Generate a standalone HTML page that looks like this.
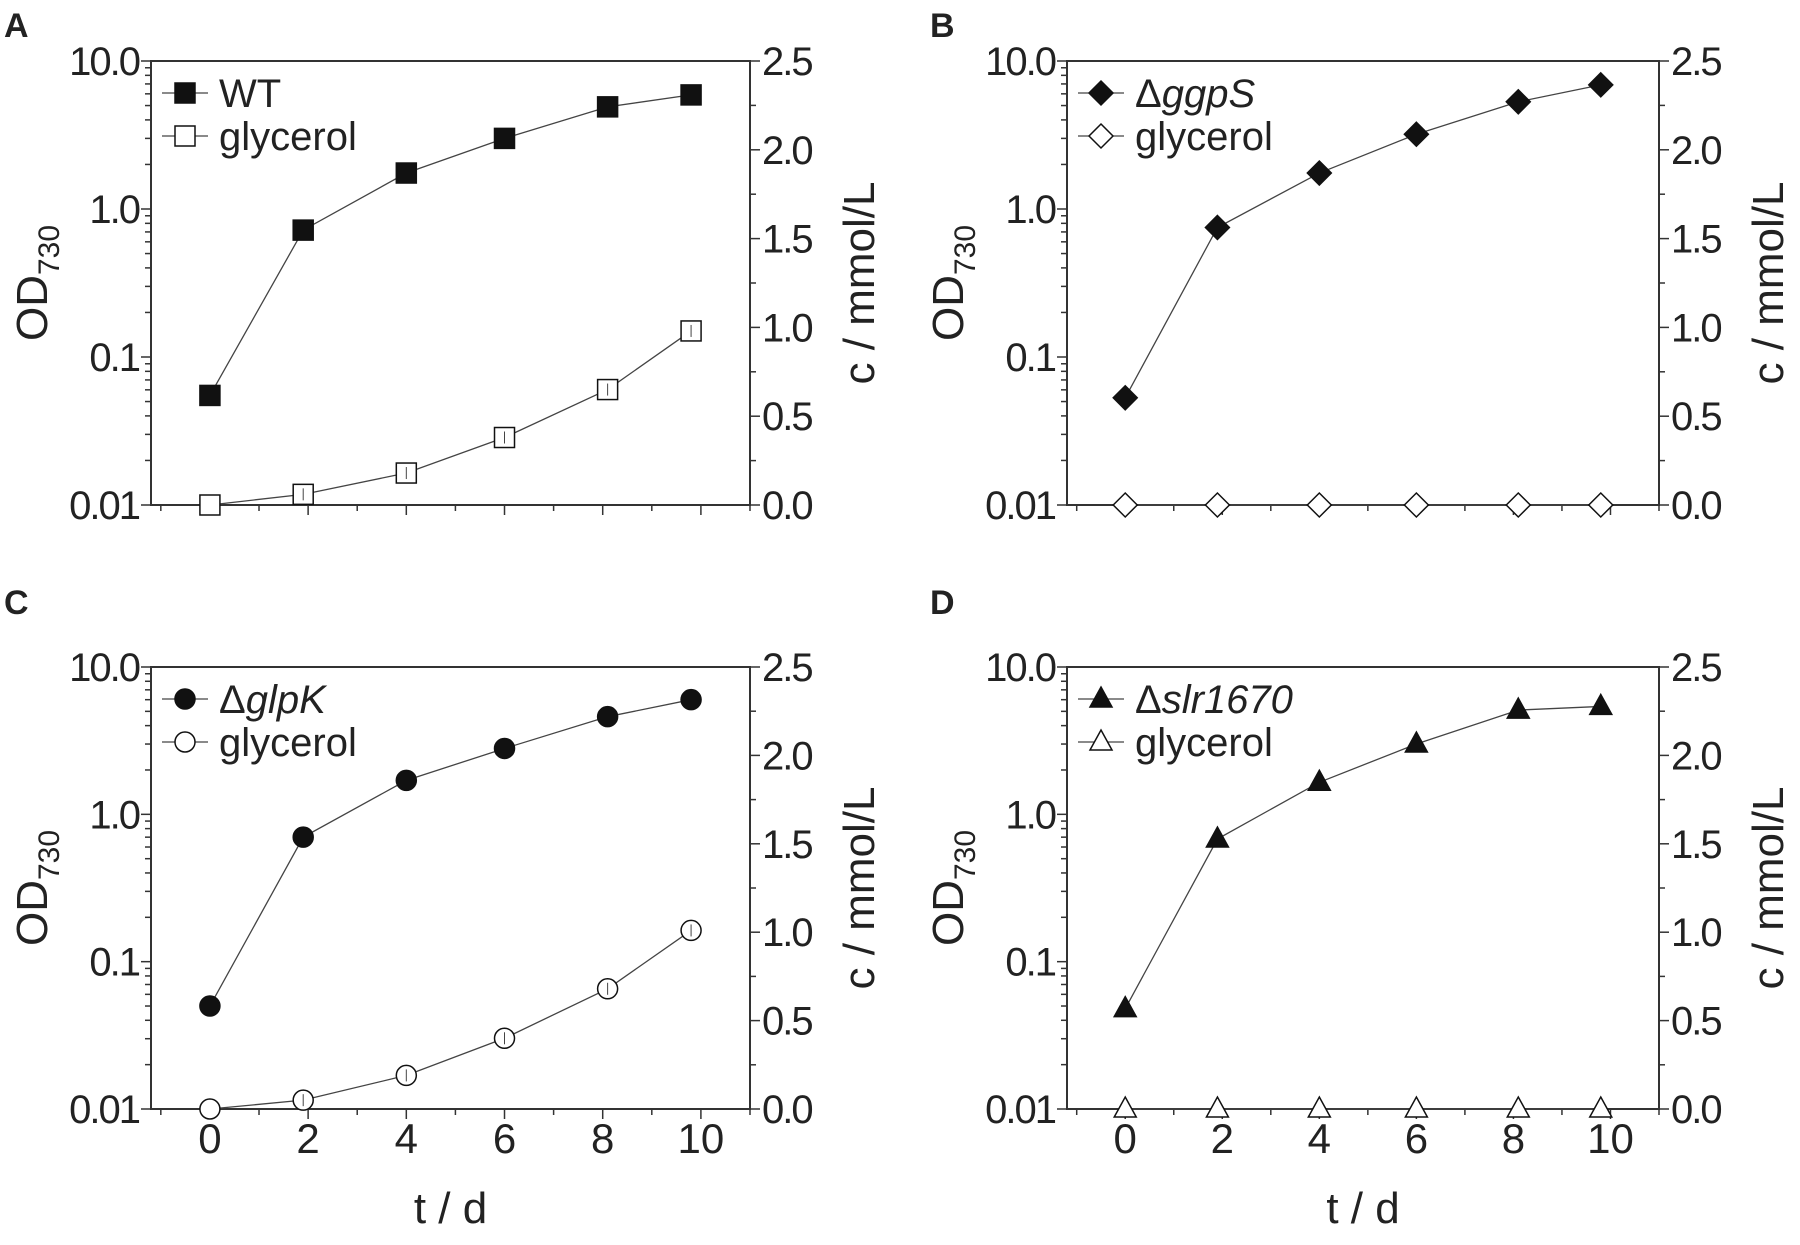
<!DOCTYPE html>
<html><head><meta charset="utf-8"><style>
html,body{margin:0;padding:0;background:#fff}
svg{display:block}
text{font-family:"Liberation Sans",Arial,sans-serif;fill:#222}
</style></head><body>
<svg id="fig" width="1800" height="1245" viewBox="0 0 1800 1245" xmlns="http://www.w3.org/2000/svg"></svg>
<script>
const days = [0, 1.9, 4, 6, 8.1, 9.8];
const odA = [0.055, 0.72, 1.75, 3.0, 4.9, 5.9];
const glyA = [0, 0.06, 0.18, 0.38, 0.65, 0.98];
const odB = [0.053, 0.75, 1.75, 3.2, 5.3, 6.9];
const glyB = [0, 0, 0, 0, 0, 0];
const odC = [0.05, 0.7, 1.7, 2.8, 4.6, 6.0];
const glyC = [0, 0.05, 0.19, 0.4, 0.68, 1.01];
const odD = [0.048, 0.68, 1.65, 3.0, 5.1, 5.4];
const glyD = [0, 0, 0, 0, 0, 0];
const leftTicks = ["0.01", "0.1", "1.0", "10.0"];
const rightTicks = ["0.0", "0.5", "1.0", "1.5", "2.0", "2.5"];
const xTicks = [0, 2, 4, 6, 8, 10];

const NS = "http://www.w3.org/2000/svg";
const svg = document.getElementById('fig');
function el(tag, attrs, parent, txt){
  const e = document.createElementNS(NS, tag);
  for (const k in attrs) e.setAttribute(k, attrs[k]);
  if (txt !== undefined) e.textContent = txt;
  (parent || svg).appendChild(e);
  return e;
}

const panels = [
  {id:'a', letter:'A', lx:4, ly:37, L:151, R:750, T:61, B:505, od:odA, gly:glyA, label:'WT', italic:false, shape:'square', xlabels:false},
  {id:'b', letter:'B', lx:930, ly:37, L:1067, R:1659, T:61, B:505, od:odB, gly:glyB, label:'ggpS', italic:true, shape:'diamond', xlabels:false},
  {id:'c', letter:'C', lx:4, ly:614, L:151, R:750, T:667, B:1109, od:odC, gly:glyC, label:'glpK', italic:true, shape:'circle', xlabels:true},
  {id:'d', letter:'D', lx:930, ly:614, L:1067, R:1659, T:667, B:1109, od:odD, gly:glyD, label:'slr1670', italic:true, shape:'triangle', xlabels:true}
];

function marker(g, shape, cx, cy, filled, name){
  const f = filled ? '#111' : '#fff';
  let m;
  if (shape === 'square') m = el('rect', {x:cx-10, y:cy-10, width:20, height:20, fill:f, stroke:'#111', 'stroke-width':1.5}, g);
  else if (shape === 'diamond') m = el('polygon', {points:`${cx},${cy-12} ${cx+12},${cy} ${cx},${cy+12} ${cx-12},${cy}`, fill:f, stroke:'#111', 'stroke-width':1.5}, g);
  else if (shape === 'circle') m = el('circle', {cx:cx, cy:cy, r:10, fill:f, stroke:'#111', 'stroke-width':1.5}, g);
  else m = el('polygon', {points:`${cx},${cy-12} ${cx+11},${cy+8} ${cx-11},${cy+8}`, fill:f, stroke:'#111', 'stroke-width':1.5}, g);
  
  
  return m;
}

panels.forEach(p => {
  const g = el('g', {});
  
  
  const xMin = -1.2, xMax = 11;
  const X = v => p.L + (v - xMin) / (xMax - xMin) * (p.R - p.L);
  const Y = v => p.B - (Math.log10(v) + 2) / 3 * (p.B - p.T);
  const Y2 = v => p.B - v / 2.5 * (p.B - p.T);

  const lt = el('text', {x:p.lx, y:p.ly, 'font-size':34, 'font-weight':'bold', fill:'#000'}, g, p.letter);
  
  

  const frame = el('rect', {x:p.L, y:p.T, width:p.R - p.L, height:p.B - p.T, fill:'none', stroke:'#333', 'stroke-width':2}, g);
  
  

  for (let d = 0; d < 3; d++) {
    for (let k = 1; k <= 9; k++) {
      const v = Math.pow(10, d - 2) * k;
      const y = Y(v);
      el('line', {x1:p.L - (k === 1 ? 10 : 6), x2:p.L, y1:y, y2:y, stroke:'#333', 'stroke-width':1.5}, g);
    }
  }
  el('line', {x1:p.L - 10, x2:p.L, y1:p.T, y2:p.T, stroke:'#333', 'stroke-width':1.5}, g);
  leftTicks.forEach((t, i) => {
    const tx = el('text', {x:p.L - 12, y:Y(Math.pow(10, i - 2)) + 14, 'font-size':40, 'text-anchor':'end', 'letter-spacing':-2}, g, t);
    
    
  });
  for (let i = 0; i <= 10; i++) {
    const v = i * 0.25, y = Y2(v);
    el('line', {x1:p.R, x2:p.R + (i % 2 === 0 ? 10 : 6), y1:y, y2:y, stroke:'#333', 'stroke-width':1.5}, g);
  }
  rightTicks.forEach((t, i) => {
    const tx = el('text', {x:p.R + 12, y:Y2(i * 0.5) + 14, 'font-size':40, 'letter-spacing':-2}, g, t);
    
    
  });
  for (let v = -1; v <= 11; v++) {
    const x = X(v);
    el('line', {x1:x, x2:x, y1:p.B, y2:p.B + (v % 2 === 0 ? 10 : 6), stroke:'#333', 'stroke-width':1.5}, g);
  }
  if (p.xlabels) {
    xTicks.forEach(t => {
      const tx = el('text', {x:X(t), y:p.B + 44, 'font-size':42, 'text-anchor':'middle'}, g, String(t));
      
      
    });
    const xt = el('text', {x:(p.L + p.R) / 2, y:p.B + 114, 'font-size':44, 'text-anchor':'middle'}, g, 't / d');
    
    
  }
  const cy = (p.T + p.B) / 2;
  const yl = el('text', {x:0, y:0, 'font-size':44, 'text-anchor':'middle', transform:`translate(${p.L - 104},${cy}) rotate(-90)`}, g);
  
  
  el('tspan', {}, yl, 'OD');
  el('tspan', {'font-size':30, dy:12}, yl, '730');
  const yr = el('text', {x:0, y:0, 'font-size':44, 'text-anchor':'middle', transform:`translate(${p.R + 124},${cy}) rotate(-90)`}, g, 'c / mmol/L');
  
  

  const ptsO = days.map((d, i) => X(d) + ',' + Y(p.od[i])).join(' ');
  const lo = el('polyline', {points:ptsO, fill:'none', stroke:'#444', 'stroke-width':1.3}, g);
  
  
  const ptsG = days.map((d, i) => X(d) + ',' + Y2(p.gly[i])).join(' ');
  const lg = el('polyline', {points:ptsG, fill:'none', stroke:'#444', 'stroke-width':1.3}, g);
  
  
  days.forEach((d, i) => {
    marker(g, p.shape, X(d), Y2(p.gly[i]), false, 'glycerol-point');
    const yy = Y2(p.gly[i]);
    if (p.gly[i] > 0) el('line', {x1:X(d), x2:X(d), y1:yy - 6, y2:yy + 6, stroke:'#444', 'stroke-width':1}, g);
  });
  days.forEach((d, i) => marker(g, p.shape, X(d), Y(p.od[i]), true, 'od-point'));

  const lx = p.L + 34, r1 = p.T + 32, r2 = p.T + 75;
  el('line', {x1:p.L + 11, x2:p.L + 57, y1:r1, y2:r1, stroke:'#444', 'stroke-width':1.3}, g);
  marker(g, p.shape, lx, r1, true, 'legend-marker-strain');
  el('line', {x1:p.L + 11, x2:p.L + 57, y1:r2, y2:r2, stroke:'#444', 'stroke-width':1.3}, g);
  marker(g, p.shape, lx, r2, false, 'legend-marker-glycerol');
  const t1 = el('text', {x:p.L + 68, y:r1 + 14, 'font-size':40}, g);
  
  
  if (p.italic) { el('tspan', {}, t1, 'Δ'); el('tspan', {'font-style':'italic'}, t1, p.label); }
  else t1.textContent = p.label;
  const t2 = el('text', {x:p.L + 68, y:r2 + 14, 'font-size':40}, g, 'glycerol');
  
  
});
</script>
</body></html>
